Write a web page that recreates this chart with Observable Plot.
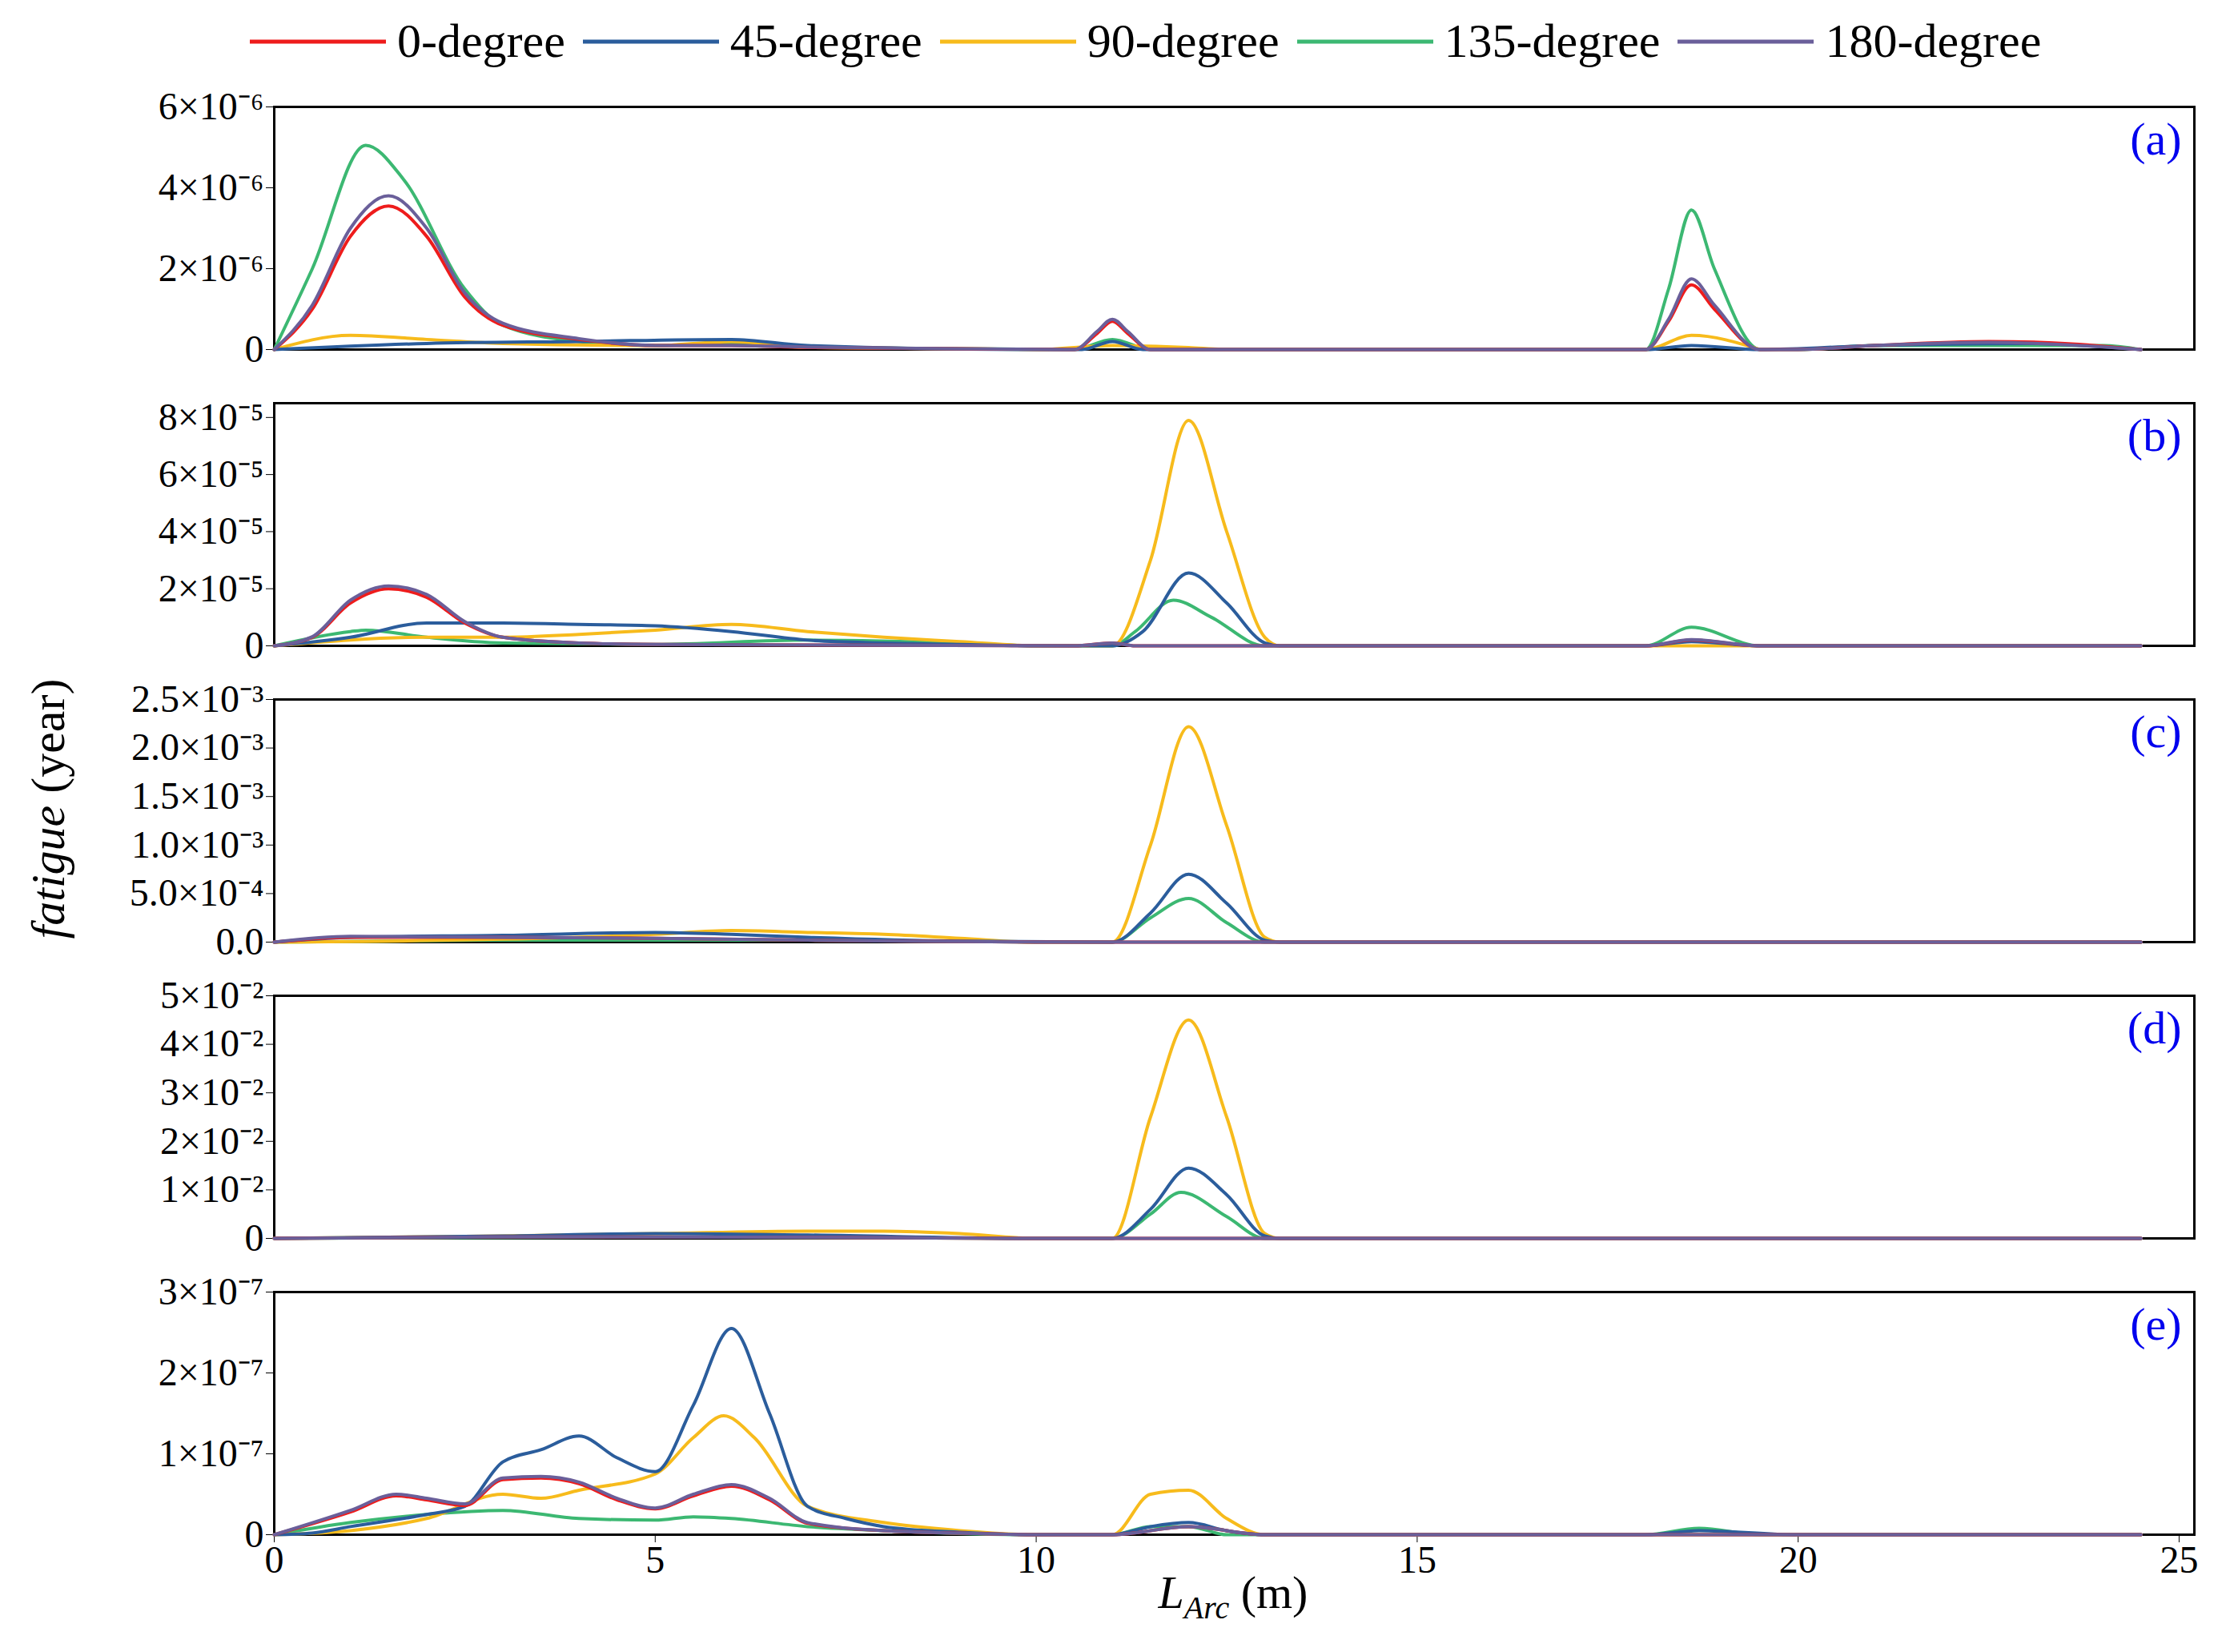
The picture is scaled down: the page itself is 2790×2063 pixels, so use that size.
<!DOCTYPE html>
<html><head><meta charset="utf-8">
<script src="https://cdn.jsdelivr.net/npm/d3@7"></script>
<script src="https://cdn.jsdelivr.net/npm/@observablehq/plot@0.6"></script>
<style>
body{margin:0;background:#fff;font-family:'Liberation Serif','Times New Roman',serif;}
#wrap{position:relative;width:2790px;font-family:'Liberation Serif','Times New Roman',serif;}
#legend{height:103px;display:flex;align-items:center;justify-content:flex-start;padding-left:312px;gap:22px;font-size:60px;}
#legend span{display:flex;align-items:center;gap:14px;}
#ylab{position:absolute;left:30px;top:1010px;transform:translate(0,-50%) rotate(-90deg);transform-origin:center;font-size:60px;white-space:nowrap;width:60px;text-align:center;}
svg{display:block}
svg text{font-family:'Liberation Serif','Times New Roman',serif !important;}
</style></head><body>
<div id="wrap">
<div id="legend"></div>
<div id="charts"></div>
<div id="ylab"><span style="position:relative;left:-200px;display:inline-block;width:460px"><i>fatigue</i> (year)</span></div>
</div>
<script>
const seriesNames = ["0-degree","45-degree","90-degree","135-degree","180-degree"];
const colors = ["#ee1c1c","#2b5d9c","#f7bb1c","#3cb872","#6a5f9a"];

// Panel (a) — units of 1e-6
const a_red = [[0,0],[0.5,1.0],[1,2.8],[1.5,3.55],[2,2.8],[2.5,1.3],[3,0.6],[4,0.25],[5,0.1],[6,0.1],[7,0.05],[9,0.02],[10.5,0],[10.8,0.4],[11,0.7],[11.2,0.4],[11.5,0],[18,0],[18.3,0.7],[18.6,1.6],[18.9,1.0],[19.5,0],[20,0],[21,0.1],[22.5,0.2],[23.5,0.15],[24.5,0]];
const a_blue = [[0,0],[2,0.15],[4,0.2],[6,0.25],[7,0.1],[10,0],[10.6,0],[11,0.2],[11.4,0],[18,0],[18.6,0.1],[19.5,0],[21,0.1],[23,0.15],[24.5,0]];
const a_yellow = [[0,0],[1,0.35],[2,0.25],[3,0.15],[5,0.1],[6,0.2],[7,0.05],[10,0],[11,0.1],[12,0.05],[12.5,0],[18,0],[18.6,0.35],[19.5,0]];
const a_green = [[0,0],[0.5,2.0],[1.2,5.05],[1.7,4.2],[2.5,1.5],[3,0.6],[4,0.2],[5,0.1],[6,0.15],[7,0.05],[10.5,0],[11,0.25],[11.5,0],[18,0],[18.3,1.5],[18.6,3.45],[18.9,2.0],[19.5,0],[20,0],[21,0.1],[24,0.1],[24.5,0]];
const a_purple = [[0,0],[0.5,1.1],[1,3.0],[1.5,3.8],[2,3.0],[2.5,1.4],[3,0.65],[4,0.27],[5,0.1],[6,0.1],[7,0.06],[9,0.02],[10.5,0],[10.8,0.45],[11,0.75],[11.2,0.45],[11.5,0],[18,0],[18.3,0.75],[18.6,1.75],[18.9,1.1],[19.5,0],[20,0],[21,0.1],[22.5,0.18],[23.5,0.12],[24.5,0]];

// Panel (b) — units of 1e-5
const b_red = [[0,0],[0.5,0.3],[1,1.5],[1.5,2.0],[2,1.7],[2.5,0.8],[3,0.3],[4,0.1],[5,0.05],[10.5,0],[11,0.1],[11.3,0],[18,0],[18.6,0.2],[19.5,0],[24.5,0]];
const b_blue = [[0,0],[1,0.3],[2,0.8],[3,0.8],[4,0.75],[5,0.7],[6,0.5],[7,0.2],[8,0.1],[9,0.05],[10,0],[11,0],[11.4,0.5],[12,2.55],[12.5,1.5],[13,0.1],[13.2,0],[18,0],[18.6,0.15],[19.5,0],[24.5,0]];
const b_yellow = [[0,0],[2,0.3],[3,0.3],[4,0.4],[5,0.55],[6,0.75],[7,0.5],[8,0.3],[9,0.15],[10,0],[11,0],[11.5,3.0],[12,7.9],[12.5,4.0],[13,0.3],[13.2,0],[24.5,0]];
const b_green = [[0,0],[1,0.5],[1.2,0.55],[2,0.3],[3,0.1],[5,0.05],[7,0.2],[9,0.1],[10,0],[11,0],[11.3,0.5],[11.8,1.6],[12.3,1.0],[13,0],[18,0],[18.6,0.65],[19.5,0],[24.5,0]];
const b_purple = [[0,0],[0.5,0.32],[1,1.6],[1.5,2.1],[2,1.8],[2.5,0.85],[3,0.3],[4,0.1],[5,0.05],[10.5,0],[11,0.1],[11.3,0],[18,0],[18.6,0.22],[19.5,0],[24.5,0]];

// Panel (c) — units of 1e-3
const c_red = [[0,0],[1,0.05],[3,0.05],[5,0.04],[7,0.02],[10,0],[24.5,0]];
const c_blue = [[0,0],[1,0.05],[3,0.07],[5,0.1],[6,0.08],[7,0.05],[9,0.01],[11,0],[11.5,0.3],[12,0.7],[12.5,0.4],[13,0.02],[13.2,0],[24.5,0]];
const c_yellow = [[0,0],[3,0.03],[5,0.08],[6,0.12],[7,0.1],[8,0.08],[9,0.04],[10,0],[11,0],[11.5,1.0],[12,2.22],[12.5,1.2],[13,0.05],[13.2,0],[24.5,0]];
const c_green = [[0,0],[3,0.02],[7,0.02],[10,0],[11,0],[11.5,0.25],[12,0.45],[12.5,0.2],[13,0],[24.5,0]];
const c_purple = [[0,0],[1,0.06],[3,0.05],[5,0.04],[7,0.02],[10,0],[24.5,0]];

// Panel (d) — units of 1e-2
const d_red = [[0,0],[3,0.03],[7,0.02],[10,0],[24.5,0]];
const d_blue = [[0,0],[3,0.05],[5,0.1],[7,0.07],[10,0],[11,0],[11.5,0.6],[12,1.45],[12.5,0.9],[13,0.05],[13.2,0],[24.5,0]];
const d_yellow = [[0,0],[3,0.05],[5,0.1],[7,0.15],[8,0.15],[9,0.1],[10,0],[11,0],[11.5,2.5],[12,4.5],[12.5,2.5],[13,0.1],[13.2,0],[24.5,0]];
const d_green = [[0,0],[5,0.03],[10,0],[11,0],[11.5,0.5],[11.9,0.95],[12.5,0.45],[13,0],[24.5,0]];
const d_purple = [[0,0],[3,0.03],[7,0.02],[10,0],[24.5,0]];

// Panel (e) — units of 1e-7
const e_red = [[0,0],[1,0.28],[1.6,0.48],[2,0.43],[2.5,0.36],[3,0.68],[3.5,0.7],[4,0.63],[4.5,0.43],[5,0.32],[5.5,0.48],[6,0.6],[6.5,0.43],[7,0.14],[8,0.05],[9,0.02],[10,0],[11,0],[12,0.1],[13,0],[24.5,0]];
const e_blue = [[0,0],[0.5,0.02],[1,0.1],[2,0.25],[2.5,0.35],[3,0.9],[3.5,1.05],[4,1.22],[4.5,0.95],[5,0.78],[5.5,1.6],[6,2.55],[6.5,1.5],[7,0.35],[7.5,0.2],[8,0.1],[9,0.03],[10,0],[11,0],[11.5,0.1],[12,0.15],[12.5,0.05],[13,0],[18,0],[18.7,0.05],[20,0],[24.5,0]];
const e_yellow = [[0,0],[1,0.05],[2,0.2],[3,0.5],[3.5,0.45],[4,0.55],[5,0.75],[5.5,1.2],[5.9,1.47],[6.3,1.2],[7,0.35],[8,0.15],[9,0.05],[10,0],[11,0],[11.5,0.5],[12,0.55],[12.5,0.2],[13,0],[24.5,0]];
const e_green = [[0,0],[1,0.15],[2,0.25],[3,0.3],[4,0.2],[5,0.18],[5.5,0.22],[6,0.2],[7,0.1],[8,0.05],[10,0],[11,0],[11.5,0.1],[12,0.1],[12.5,0],[18,0],[18.7,0.08],[19.5,0],[24.5,0]];
const e_purple = [[0,0],[1,0.3],[1.6,0.5],[2,0.45],[2.5,0.38],[3,0.7],[3.5,0.72],[4,0.65],[4.5,0.45],[5,0.33],[5.5,0.5],[6,0.62],[6.5,0.45],[7,0.15],[8,0.05],[9,0.02],[10,0],[11,0],[12,0.1],[13,0],[24.5,0]];

const xTicks = [0,5,10,15,20,25];
const panels = [
  {tag:"(a)", max:6, ticks:[0,2,4,6], labels:["0","2×10⁻⁶","4×10⁻⁶","6×10⁻⁶"], series:[a_red,a_blue,a_yellow,a_green,a_purple]},
  {tag:"(b)", max:8.5, ticks:[0,2,4,6,8], labels:["0","2×10⁻⁵","4×10⁻⁵","6×10⁻⁵","8×10⁻⁵"], series:[b_red,b_blue,b_yellow,b_green,b_purple]},
  {tag:"(c)", max:2.5, ticks:[0,0.5,1,1.5,2,2.5], labels:["0.0","5.0×10⁻⁴","1.0×10⁻³","1.5×10⁻³","2.0×10⁻³","2.5×10⁻³"], series:[c_red,c_blue,c_yellow,c_green,c_purple]},
  {tag:"(d)", max:5, ticks:[0,1,2,3,4,5], labels:["0","1×10⁻²","2×10⁻²","3×10⁻²","4×10⁻²","5×10⁻²"], series:[d_red,d_blue,d_yellow,d_green,d_purple]},
  {tag:"(e)", max:3, ticks:[0,1,2,3], labels:["0","1×10⁻⁷","2×10⁻⁷","3×10⁻⁷"], series:[e_red,e_blue,e_yellow,e_green,e_purple]}
];
const drawOrder = [3,2,1,0,4];

const legend = document.getElementById("legend");
seriesNames.forEach((n,i)=>{
  const s=document.createElement("span");
  s.innerHTML=`<svg width="170" height="10"><line x1="0" y1="5" x2="170" y2="5" stroke="${colors[i]}" stroke-width="5"/></svg>${n}`;
  legend.appendChild(s);
});

const charts = document.getElementById("charts");
panels.forEach((p,pi)=>{
  const last = pi===panels.length-1;
  const rows=[];
  drawOrder.forEach(si=>p.series[si].forEach(([x,y])=>rows.push({x,y,s:seriesNames[si],o:si})));
  const chart = Plot.plot({
    width:2790, height: last?460:370,
    marginLeft:342, marginRight:50, marginTop:30, marginBottom: last?127:37,
    style:{fontFamily:"'Liberation Serif', 'Times New Roman', serif", fontSize:"48px", color:"#000"},
    x:{domain:[0,25.2], ticks:xTicks, tickSize:10, label:null, axis: last?"bottom":null, tickFormat:d=>d},
    y:{domain:[0,p.max], ticks:p.ticks, tickSize:10, label:null, tickFormat:d=>p.labels[p.ticks.indexOf(d)]},
    color:{domain:seriesNames, range:colors},
    marks:[
      Plot.frame({strokeWidth:3}),
      Plot.line(rows,{x:"x",y:"y",z:"s",stroke:"s",strokeWidth:4,curve:"monotone-x",sort:null}),
      Plot.text([p.tag],{frameAnchor:"top-right",dx:-16,dy:18,text:d=>d,fill:"#0000ee",fontSize:58,textAnchor:"end"})
    ]
  });
  charts.appendChild(chart);
});
const xl=document.createElement("div");
xl.style.cssText="position:absolute;left:0;width:2790px;top:1955px;text-align:center;font-size:58px;padding-left:290px;box-sizing:border-box";
xl.innerHTML="<i>L<sub style='font-size:40px'>Arc</sub></i> (m)";
document.getElementById("wrap").appendChild(xl);
</script>
</body></html>
